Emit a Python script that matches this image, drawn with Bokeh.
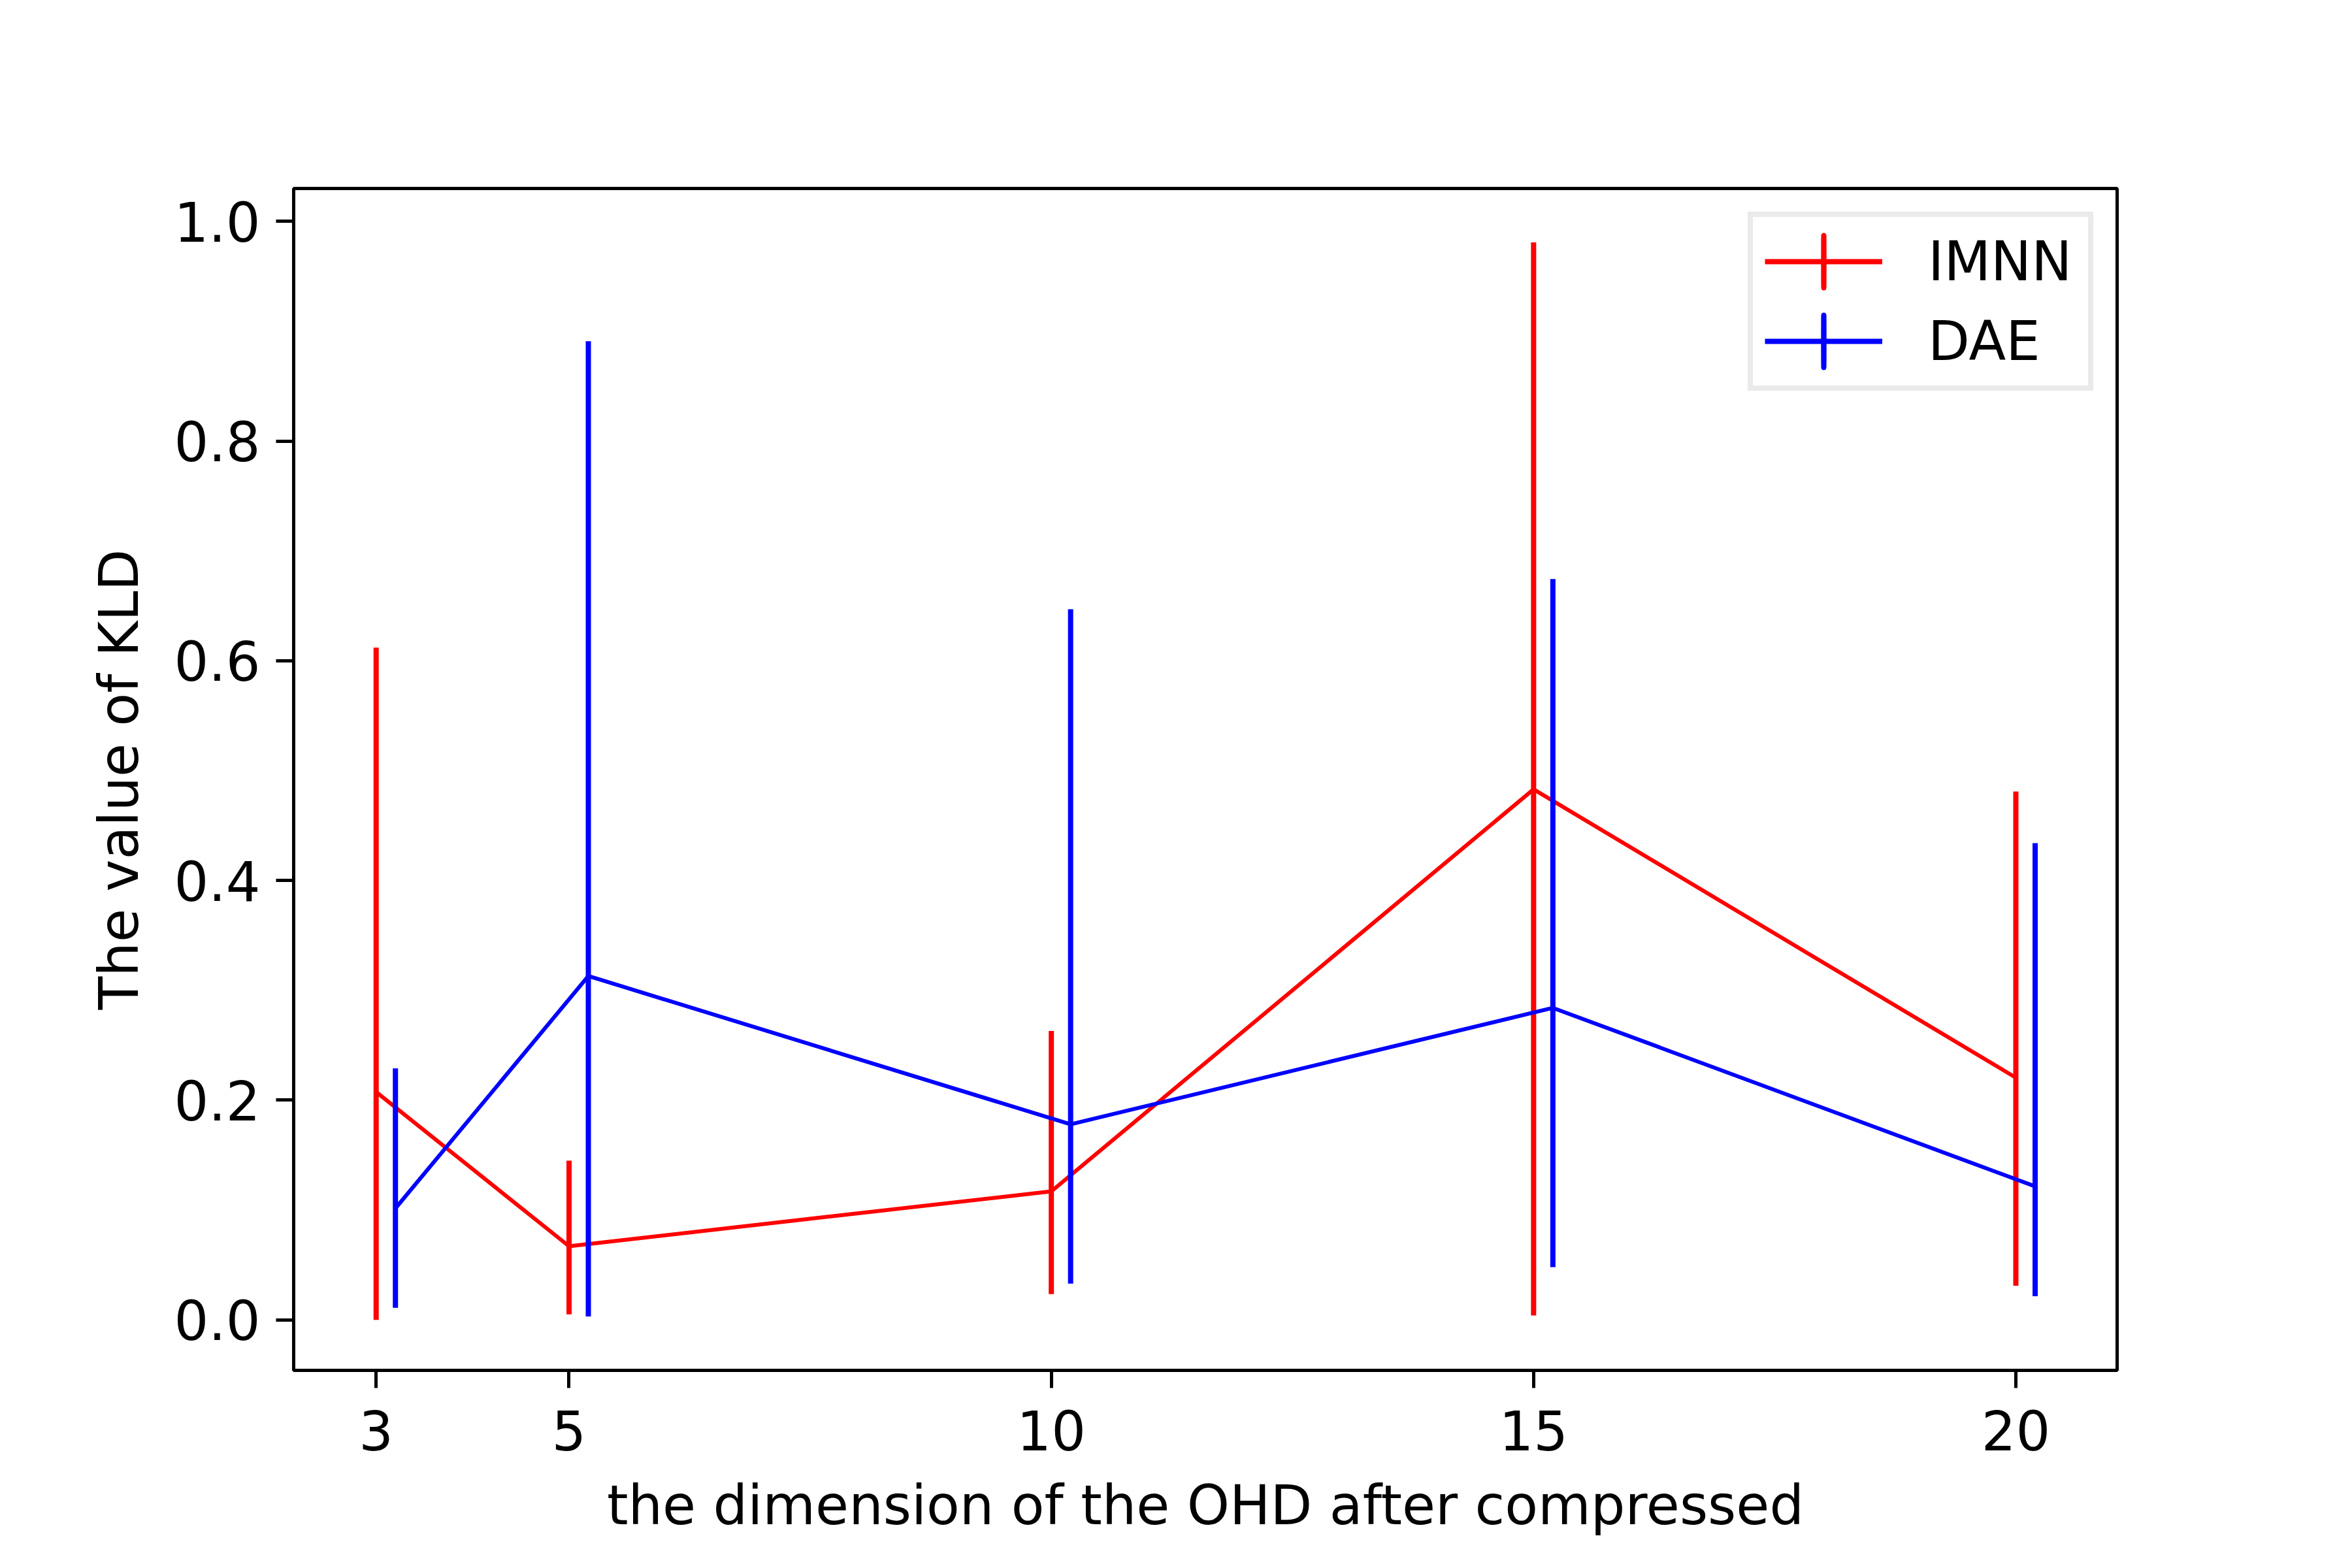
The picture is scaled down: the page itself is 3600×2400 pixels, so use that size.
import math
from bokeh.plotting import figure
from bokeh.models import (ColumnDataSource, FixedTicker, Range1d, Legend, LegendItem,
                          PrintfTickFormatter)
from bokeh.embed import file_html
from bokeh.resources import INLINE

# ---- data ----
dims = [3, 5, 10, 15, 20]
dae_offset = 0.2
imnn_mean = [0.2075, 0.067, 0.117, 0.483, 0.2205]
imnn_low = [0.0, 0.005, 0.0235, 0.004, 0.031]
imnn_high = [0.612, 0.145, 0.263, 0.981, 0.481]
dae_mean = [0.1015, 0.313, 0.178, 0.284, 0.1215]
dae_low = [0.011, 0.003, 0.033, 0.048, 0.0215]
dae_high = [0.229, 0.891, 0.647, 0.6745, 0.434]
x_ticks = [3, 5, 10, 15, 20]
y_ticks = [0.0, 0.2, 0.4, 0.6, 0.8, 1.0]

FONT = "DejaVu Sans"
FS = "83px"

W, H = 3584, 2384
p = figure(width=W, height=H, output_backend="svg", toolbar_location=None,
           x_range=Range1d(2.145, 21.05), y_range=Range1d(-0.046, 1.030),
           min_border_left=449, min_border_right=344, min_border_top=288,
           min_border_bottom=287)
p.grid.visible = False
p.background_fill_color = "white"
p.border_fill_color = "white"
p.outline_line_color = "black"
p.outline_line_width = 5

imnn_src = ColumnDataSource(dict(x=dims, y=imnn_mean, lo=imnn_low, hi=imnn_high))
dae_x = [d + dae_offset for d in dims]
dae_src = ColumnDataSource(dict(x=dae_x, y=dae_mean, lo=dae_low, hi=dae_high))

red = "#ff0000"
blue = "#0000ff"

r_line = p.line("x", "y", source=imnn_src, line_color=red, line_width=6)
r_err = p.segment(x0="x", y0="lo", x1="x", y1="hi", source=imnn_src, line_color=red, line_width=8)
b_line = p.line("x", "y", source=dae_src, line_color=blue, line_width=6)
b_err = p.segment(x0="x", y0="lo", x1="x", y1="hi", source=dae_src, line_color=blue, line_width=8)

# legend-only glyphs (NaN position, not drawn in the plot area)
nan = float("nan")
r_leg_line = p.line(x=[nan, nan], y=[nan, nan], line_color=red, line_width=8)
b_leg_line = p.line(x=[nan, nan], y=[nan, nan], line_color=blue, line_width=8)
r_leg_bar = p.ellipse(x=[nan], y=[nan], width=0.5, height=100, width_units="screen",
                      height_units="screen", fill_color=None, line_color=red, line_width=8)
b_leg_bar = p.ellipse(x=[nan], y=[nan], width=0.5, height=100, width_units="screen",
                      height_units="screen", fill_color=None, line_color=blue, line_width=8)

legend = Legend(items=[LegendItem(label="IMNN", renderers=[r_leg_line, r_leg_bar]),
                       LegendItem(label="DAE", renderers=[b_leg_line, b_leg_bar])],
                location="top_right", margin=36, padding=18, spacing=22,
                glyph_width=180, glyph_height=100, label_standoff=70, label_width=227,
                label_text_font=FONT, label_text_font_size=FS, label_text_color="black",
                border_line_color="#d6d6d6", border_line_width=8,
                background_fill_color="white", background_fill_alpha=1.0)
p.add_layout(legend)

for ax in (p.xaxis[0], p.yaxis[0]):
    ax.axis_line_color = None
    ax.major_tick_line_color = "black"
    ax.major_tick_line_width = 5
    ax.major_tick_out = 27
    ax.major_tick_in = 0
    ax.minor_tick_line_color = None
    ax.major_label_text_font = FONT
    ax.major_label_text_font_size = FS
    ax.major_label_text_color = "black"
    ax.axis_label_text_font = FONT
    ax.axis_label_text_font_size = FS
    ax.axis_label_text_font_style = "normal"
    ax.axis_label_text_color = "black"

p.xaxis.ticker = FixedTicker(ticks=x_ticks)
p.yaxis.ticker = FixedTicker(ticks=y_ticks)
p.yaxis.formatter = PrintfTickFormatter(format="%.1f")
p.xaxis.axis_label = "the dimension of the OHD after compressed"
p.yaxis.axis_label = "The value of KLD"
p.xaxis.major_label_standoff = 33
p.yaxis.major_label_standoff = 24
p.xaxis.axis_label_standoff = 33
p.yaxis.axis_label_standoff = 33

open("out.html", "w").write(file_html(p, INLINE))
